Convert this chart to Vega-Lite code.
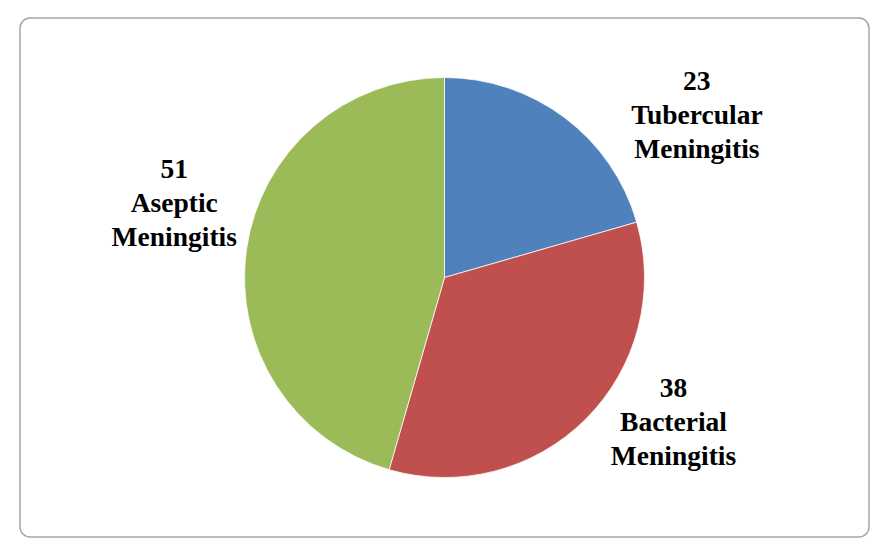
{
  "$schema": "https://vega.github.io/schema/vega-lite/v6.json",
  "width": 875,
  "height": 544,
  "autosize": {"type": "fit", "contains": "padding"},
  "padding": {"left": 20, "right": 6, "top": 18, "bottom": 7},
  "background": "white",
  "view": {"stroke": "#a6a6a6", "strokeWidth": 1.5, "cornerRadius": 10, "fill": "white"},
  "data": {
    "values": [
      {"name": "Tubercular\nMeningitis", "value": 23, "order": 1},
      {"name": "Bacterial\nMeningitis", "value": 38, "order": 2},
      {"name": "Aseptic\nMeningitis", "value": 51, "order": 3}
    ]
  },
  "encoding": {
    "theta": {"field": "value", "type": "quantitative", "stack": true},
    "order": {"field": "order", "type": "quantitative"}
  },
  "layer": [
    {
      "mark": {"type": "arc", "outerRadius": 200, "stroke": "#ffffff", "strokeWidth": 0.75},
      "encoding": {
        "color": {
          "field": "order",
          "type": "nominal",
          "scale": {"domain": [1, 2, 3], "range": ["#4F81BD", "#C0504D", "#9BBB59"]},
          "legend": null
        }
      }
    },
    {
      "mark": {
        "type": "text",
        "radius": 280,
        "font": "Liberation Serif",
        "fontWeight": "bold",
        "fontSize": 27.5,
        "lineHeight": 34,
        "lineBreak": "\n",
        "align": "center",
        "baseline": "middle",
        "color": "#000000",
        "text": {"expr": "datum.value + '\\n' + datum.name"},
        "dx": {"expr": "datum.order == 1 ? 84 : datum.order == 2 ? 31 : 7"},
        "dy": {"expr": "datum.order == 1 ? 28 : datum.order == 2 ? -86 : -68"}
      }
    }
  ]
}
